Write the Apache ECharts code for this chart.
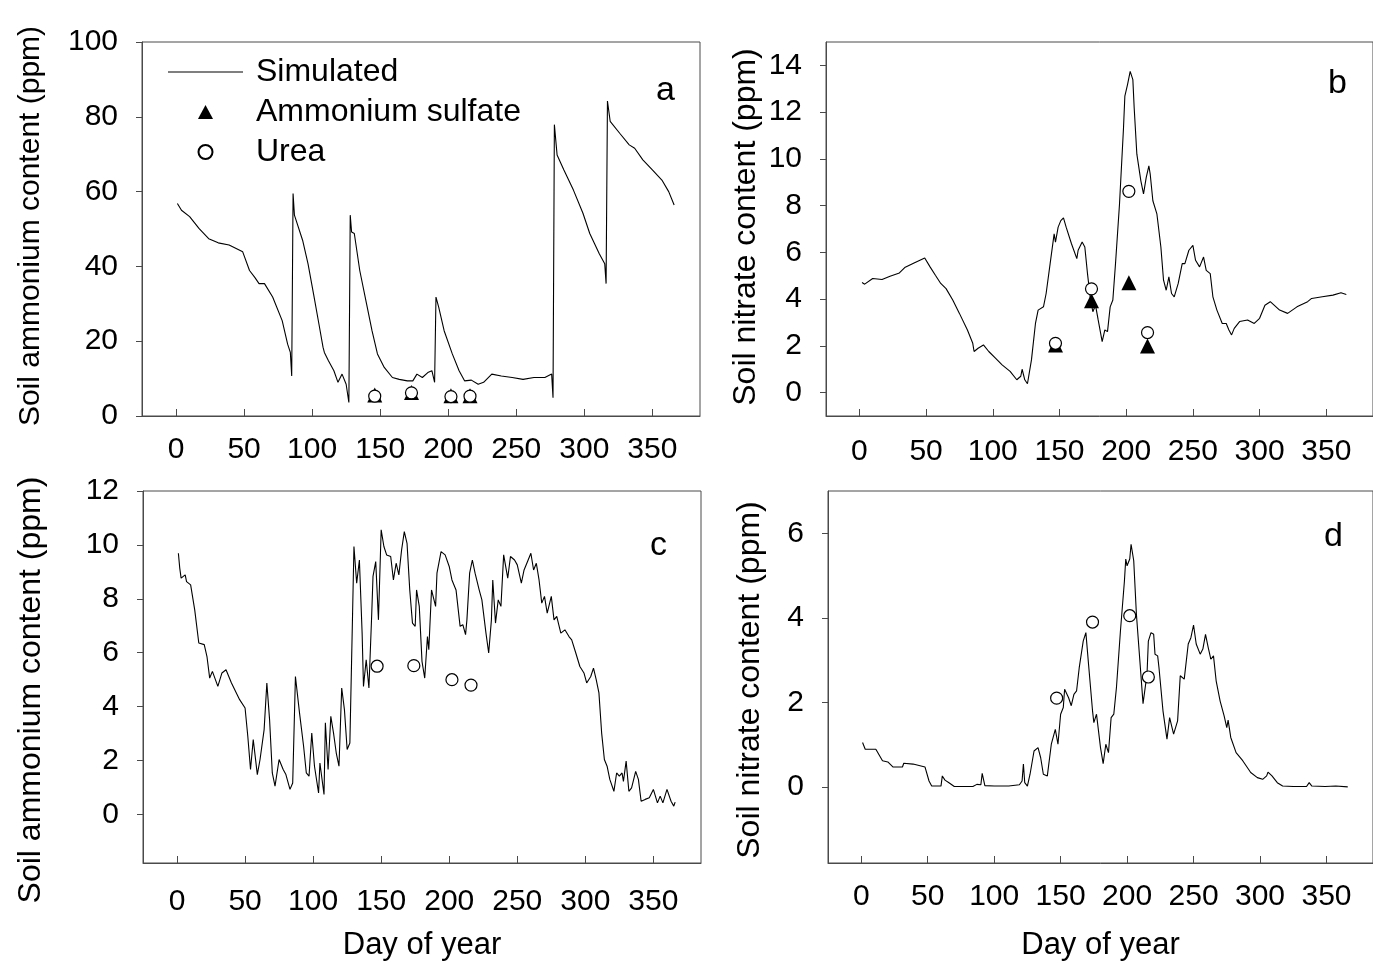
<!DOCTYPE html>
<html><head><meta charset="utf-8">
<script src="https://cdn.jsdelivr.net/npm/echarts@6/dist/echarts.min.js"></script>
<style>html,body{margin:0;padding:0;background:#fff}#c{width:1373px;height:966px}</style>
</head><body><div id="c"></div>
<script>
// ---- tick labels ----
const xTicks = [0, 50, 100, 150, 200, 250, 300, 350];
const yTicksA = [0, 20, 40, 60, 80, 100];
const yTicksB = [0, 2, 4, 6, 8, 10, 12, 14];
const yTicksC = [0, 2, 4, 6, 8, 10, 12];
const yTicksD = [0, 2, 4, 6];

// ---- simulated series [day, ppm] ----
const simA = [[1,56.8],[4,55],[10,53.3],[17,50.1],[24,47.4],[31,46.3],[39,45.7],[49,43.9],[54,38.9],[58,37],[61,35.4],[65,35.4],[71,31.8],[78,25.5],[82,19.2],[84,17],[85,10.7],[86,59.5],[87,53.7],[93,47],[97,40.7],[101,32.7],[105,24.6],[108,18.4],[109,17],[112,14.8],[116,12.1],[119,9],[122,11.2],[125,8.5],[127,3.6],[128,53.7],[129,49.2],[131,48.8],[135,38.9],[140,30],[144,22.8],[148,16.6],[153,13],[159,10.3],[164,9.8],[170,9.4],[174,9.4],[177,11.2],[181,10.3],[185,11.6],[188,12.1],[190,9],[191,31.8],[193,29.1],[197,22.8],[203,16.6],[208,12.1],[212,9.4],[217,9.6],[222,8.5],[226,9],[232,11.2],[239,10.7],[247,10.3],[255,9.8],[263,10.3],[271,10.3],[276,11.2],[277,4.9],[278,77.9],[280,69.8],[285,65.8],[292,60.4],[299,54.2],[304,48.8],[311,43.4],[315,40.7],[316,35.4],[317,84.2],[319,78.8],[326,75.6],[333,72.5],[337,71.6],[343,68.5],[350,65.8],[357,63.1],[362,60],[366,56.4]];
const simB = [[2,4.71],[4,4.64],[10,4.88],[17,4.84],[23,4.98],[30,5.12],[34,5.35],[41,5.55],[49,5.76],[53,5.38],[57,5.02],[61,4.67],[65,4.45],[70,3.96],[75,3.39],[81,2.68],[85,2.11],[86,1.76],[89,1.9],[93,2.04],[97,1.76],[102,1.48],[107,1.19],[113,0.91],[118,0.55],[121,0.7],[122,1.0],[124,0.55],[126,0.38],[129,1.4],[132,2.96],[134,3.53],[138,3.67],[140,4.24],[143,5.52],[146,6.79],[147,6.44],[149,7.08],[151,7.36],[153,7.48],[155,7.08],[159,6.37],[163,5.73],[164,6.09],[167,6.44],[169,6.23],[171,5.09],[173,4.1],[175,3.46],[177,3.74],[179,3.11],[182,2.18],[184,2.68],[186,2.61],[188,3.67],[190,3.96],[192,5.52],[195,8.07],[198,11.33],[199,12.68],[201,13.18],[203,13.74],[205,13.39],[206,12.18],[208,10.2],[211,9.06],[213,8.5],[215,9.2],[217,9.7],[218,9.35],[220,8.21],[223,7.65],[226,6.23],[228,4.81],[230,4.38],[232,4.95],[234,4.24],[236,4.1],[239,4.67],[242,5.52],[244,5.52],[247,6.09],[250,6.3],[252,5.66],[255,5.38],[258,5.8],[260,5.23],[263,5.09],[265,4.1],[268,3.53],[272,2.96],[275,2.96],[277,2.68],[279,2.47],[281,2.75],[285,3.04],[291,3.11],[296,2.96],[300,3.18],[304,3.74],[308,3.89],[315,3.53],[321,3.39],[328,3.67],[336,3.89],[339,4.03],[347,4.1],[355,4.17],[361,4.27],[365,4.2]];
const simC = [[1,9.69],[2,9.14],[3,8.77],[6,8.89],[7,8.64],[10,8.52],[13,7.59],[16,6.36],[20,6.3],[22,5.86],[24,5.06],[26,5.31],[30,4.75],[33,5.25],[36,5.37],[40,4.88],[46,4.26],[50,3.95],[52,2.9],[54,1.67],[56,2.78],[59,1.48],[61,2.04],[64,3.15],[66,4.88],[68,3.52],[70,1.54],[72,1.05],[75,2.04],[78,1.67],[80,1.48],[83,0.93],[85,1.17],[87,5.12],[90,3.77],[93,2.53],[95,1.54],[97,1.42],[99,3.02],[101,1.79],[104,0.8],[105,1.91],[108,0.74],[109,3.4],[111,1.67],[113,3.64],[115,3.02],[117,2.28],[119,1.79],[121,4.69],[123,3.89],[125,2.41],[127,2.65],[129,7.47],[130,9.94],[132,8.58],[134,9.44],[136,6.73],[137,4.75],[139,5.74],[141,4.69],[143,7.35],[144,8.83],[146,9.38],[148,7.22],[150,10.56],[152,9.94],[154,9.63],[157,9.57],[159,8.7],[161,9.32],[163,8.89],[165,9.81],[167,10.49],[169,10.06],[171,8.33],[173,7.1],[175,6.98],[176,8.33],[178,7.72],[180,5.68],[182,5.06],[184,6.6],[185,6.11],[187,8.33],[190,7.72],[191,8.95],[194,9.75],[197,9.63],[200,9.2],[202,8.7],[205,8.33],[208,6.98],[210,7.04],[212,6.67],[213,7.22],[215,8.95],[217,9.44],[219,8.95],[222,8.33],[224,7.96],[227,6.73],[229,5.99],[231,7.22],[232,8.7],[234,7.1],[236,7.96],[238,7.72],[240,9.63],[243,8.77],[245,9.57],[248,9.44],[250,9.26],[253,8.58],[255,9.07],[258,9.44],[260,9.69],[262,9.07],[264,9.32],[266,8.7],[268,7.84],[270,8.09],[272,7.47],[275,8.09],[277,7.22],[279,7.35],[282,6.73],[285,6.85],[288,6.6],[290,6.48],[293,5.99],[296,5.49],[299,5.25],[301,4.88],[304,5.12],[306,5.43],[308,5],[310,4.51],[312,3.02],[314,2.04],[316,1.79],[318,1.3],[321,0.86],[323,1.54],[325,1.42],[327,1.54],[328,1.23],[330,1.98],[332,0.86],[334,0.99],[337,1.6],[339,1.3],[341,0.49],[344,0.56],[347,0.62],[350,0.93],[353,0.43],[355,0.68],[357,0.43],[360,0.93],[363,0.49],[365,0.31],[366,0.46]];
const simD = [[1,1.05],[3,0.89],[11,0.89],[16,0.62],[20,0.59],[24,0.47],[31,0.47],[32,0.56],[39,0.54],[48,0.47],[51,0.14],[53,0.02],[60,0.02],[61,0.26],[63,0.16],[66,0.1],[70,0.01],[84,0.01],[87,0.06],[90,0.05],[91,0.32],[93,0.03],[100,0.02],[111,0.02],[119,0.05],[121,0.14],[122,0.54],[123,0.1],[125,0.02],[127,0.3],[130,0.85],[133,0.93],[135,0.69],[137,0.3],[140,0.26],[143,1.01],[146,1.36],[148,1.01],[150,1.72],[152,1.88],[153,2.31],[156,2.11],[158,1.92],[160,2.19],[162,2.27],[164,2.82],[167,3.45],[169,3.65],[171,2.9],[174,1.8],[175,1.52],[177,1.72],[180,0.93],[182,0.55],[184,1.01],[186,0.81],[188,1.64],[190,1.72],[192,2.35],[195,3.69],[198,4.87],[199,5.39],[200,5.23],[202,5.39],[203,5.74],[205,5.35],[207,4.09],[210,2.82],[212,1.97],[215,2.67],[216,3.45],[218,3.65],[220,3.61],[221,3.14],[223,3.1],[224,2.82],[227,1.8],[230,1.13],[232,1.64],[235,1.25],[238,1.56],[240,2.63],[243,2.55],[246,3.38],[248,3.53],[250,3.83],[252,3.38],[255,3.14],[257,3.26],[259,3.61],[261,3.3],[263,3.02],[265,3.1],[267,2.51],[270,2.03],[273,1.68],[275,1.4],[276,1.58],[278,1.17],[282,0.81],[287,0.62],[293,0.34],[298,0.22],[302,0.18],[305,0.26],[306,0.35],[309,0.26],[313,0.1],[317,0.02],[325,0.01],[335,0.01],[337,0.1],[339,0.02],[349,0.01],[357,0.02],[366,0]];

// ---- observations [day, ppm] ----
const sulfateA = [[146,5.6],[173,6.3],[202,5.4],[216,5.4]];
const ureaA    = [[146,5.3],[173,6.2],[202,5.2],[216,5.3]];
const sulfateB = [[147,2.04],[174,3.93],[202,4.7],[216,2.0]];
const ureaB    = [[147,2.11],[174,4.44],[202,8.61],[216,2.57]];
const ureaC    = [[147,5.5],[174,5.52],[202,5.0],[216,4.8]];
const ureaD    = [[147,2.1],[174,3.9],[202,4.05],[216,2.6]];

const FONT = "'Liberation Sans', Arial, sans-serif";
const AX = '#4a4a4a';

function xAx(i, margin, name) {
  return {
    type: 'value', gridIndex: i, min: -25, max: 385,
    axisLine: { show: true, onZero: false, lineStyle: { color: AX, width: 1 } },
    axisTick: { show: true, inside: true, length: 7, customValues: xTicks, lineStyle: { color: AX } },
    axisLabel: { customValues: xTicks, margin: margin, fontSize: 30, color: '#000', fontFamily: FONT },
    splitLine: { show: false },
    name: name || '', nameLocation: 'middle', nameGap: 67,
    nameTextStyle: { fontSize: 31, color: '#000', fontFamily: FONT }
  };
}
function yAx(i, min, max, ticks, name, gap, pad, fs) {
  return {
    type: 'value', gridIndex: i, min: min, max: max,
    axisLine: { show: true, onZero: false, lineStyle: { color: AX, width: 1 } },
    axisTick: { show: true, inside: false, length: 6, customValues: ticks, lineStyle: { color: AX } },
    axisLabel: { customValues: ticks, margin: 24, fontSize: 30, color: '#000', fontFamily: FONT },
    splitLine: { show: false },
    name: name, nameLocation: 'middle', nameGap: gap,
    nameTextStyle: { fontSize: fs, color: '#000', fontFamily: FONT, padding: pad }
  };
}
function line(i, data) {
  return { type: 'line', name: 'Simulated', xAxisIndex: i, yAxisIndex: i, data: data,
    symbol: 'none', lineStyle: { color: '#000', width: 1.1 }, itemStyle: { color: '#000' }, z: 2 };
}
function tri(i, data) {
  return { type: 'scatter', name: 'Ammonium sulfate', xAxisIndex: i, yAxisIndex: i, data: data,
    symbol: 'triangle', symbolSize: 15, symbolKeepAspect: true,
    itemStyle: { color: '#000', opacity: 1 }, z: 3 };
}
function circ(i, data) {
  return { type: 'scatter', name: 'Urea', xAxisIndex: i, yAxisIndex: i, data: data,
    symbol: 'circle', symbolSize: 12, symbolKeepAspect: true,
    itemStyle: { color: '#fff', borderColor: '#000', borderWidth: 1.2, opacity: 1 }, z: 4 };
}
function letter(t, x, y, fs) {
  return { type: 'text', x: x, y: y, style: { text: t, fontSize: fs, fontFamily: FONT, fill: '#000', align: 'left', verticalAlign: 'middle' } };
}

const chart = echarts.init(document.getElementById('c'), null, { renderer: 'canvas' });
chart.setOption({
  animation: false,
  backgroundColor: '#fff',
  grid: [
    { left: 142, top: 42, width: 558, height: 374, show: true, borderColor: AX, borderWidth: 1 },
    { left: 826, top: 42, width: 558, height: 374, show: true, borderColor: AX, borderWidth: 1 },
    { left: 143, top: 491, width: 558, height: 372, show: true, borderColor: AX, borderWidth: 1 },
    { left: 828, top: 491, width: 558, height: 372, show: true, borderColor: AX, borderWidth: 1 }
  ],
  xAxis: [ xAx(0, 19), xAx(1, 21), xAx(2, 24, 'Day of year'), xAx(3, 19, 'Day of year') ],
  yAxis: [
    yAx(0, 0, 100, yTicksA, 'Soil ammonium content (ppm)', 96, [0, 0, 0, 6], 30),
    yAx(1, -1, 15, yTicksB, 'Soil nitrate content (ppm)', 64, [0, 0, 0, 4], 32),
    yAx(2, -1.8, 12, yTicksC, 'Soil ammonium content (ppm)', 96, [0, 26, 0, 0], 32),
    yAx(3, -1.8, 7, yTicksD, 'Soil nitrate content (ppm)', 62, [0, 6, 0, 0], 32)
  ],
  legend: {
    data: [
      { name: 'Simulated', icon: 'path://M0,0L75,0L75,1L0,1Z' },
      { name: 'Ammonium sulfate', icon: 'path://M7,0L14,13L0,13Z' },
      { name: 'Urea', icon: 'circle' }
    ],
    orient: 'vertical', left: 163, top: 51,
    itemWidth: 75, itemHeight: 14, itemGap: 8, selectedMode: false,
    symbolKeepAspect: true,
    textStyle: { fontSize: 32, color: '#000', fontFamily: FONT, padding: [0, 0, 0, 8] }
  },
  graphic: [
    letter('a', 656, 91, 34),
    letter('b', 1328, 84, 34),
    letter('c', 650, 546, 34),
    letter('d', 1324, 537, 34)
  ],
  series: [
    line(0, simA), tri(0, sulfateA), circ(0, ureaA),
    line(1, simB), tri(1, sulfateB), circ(1, ureaB),
    line(2, simC), circ(2, ureaC),
    line(3, simD), circ(3, ureaD)
  ]
});
</script>
</body></html>
